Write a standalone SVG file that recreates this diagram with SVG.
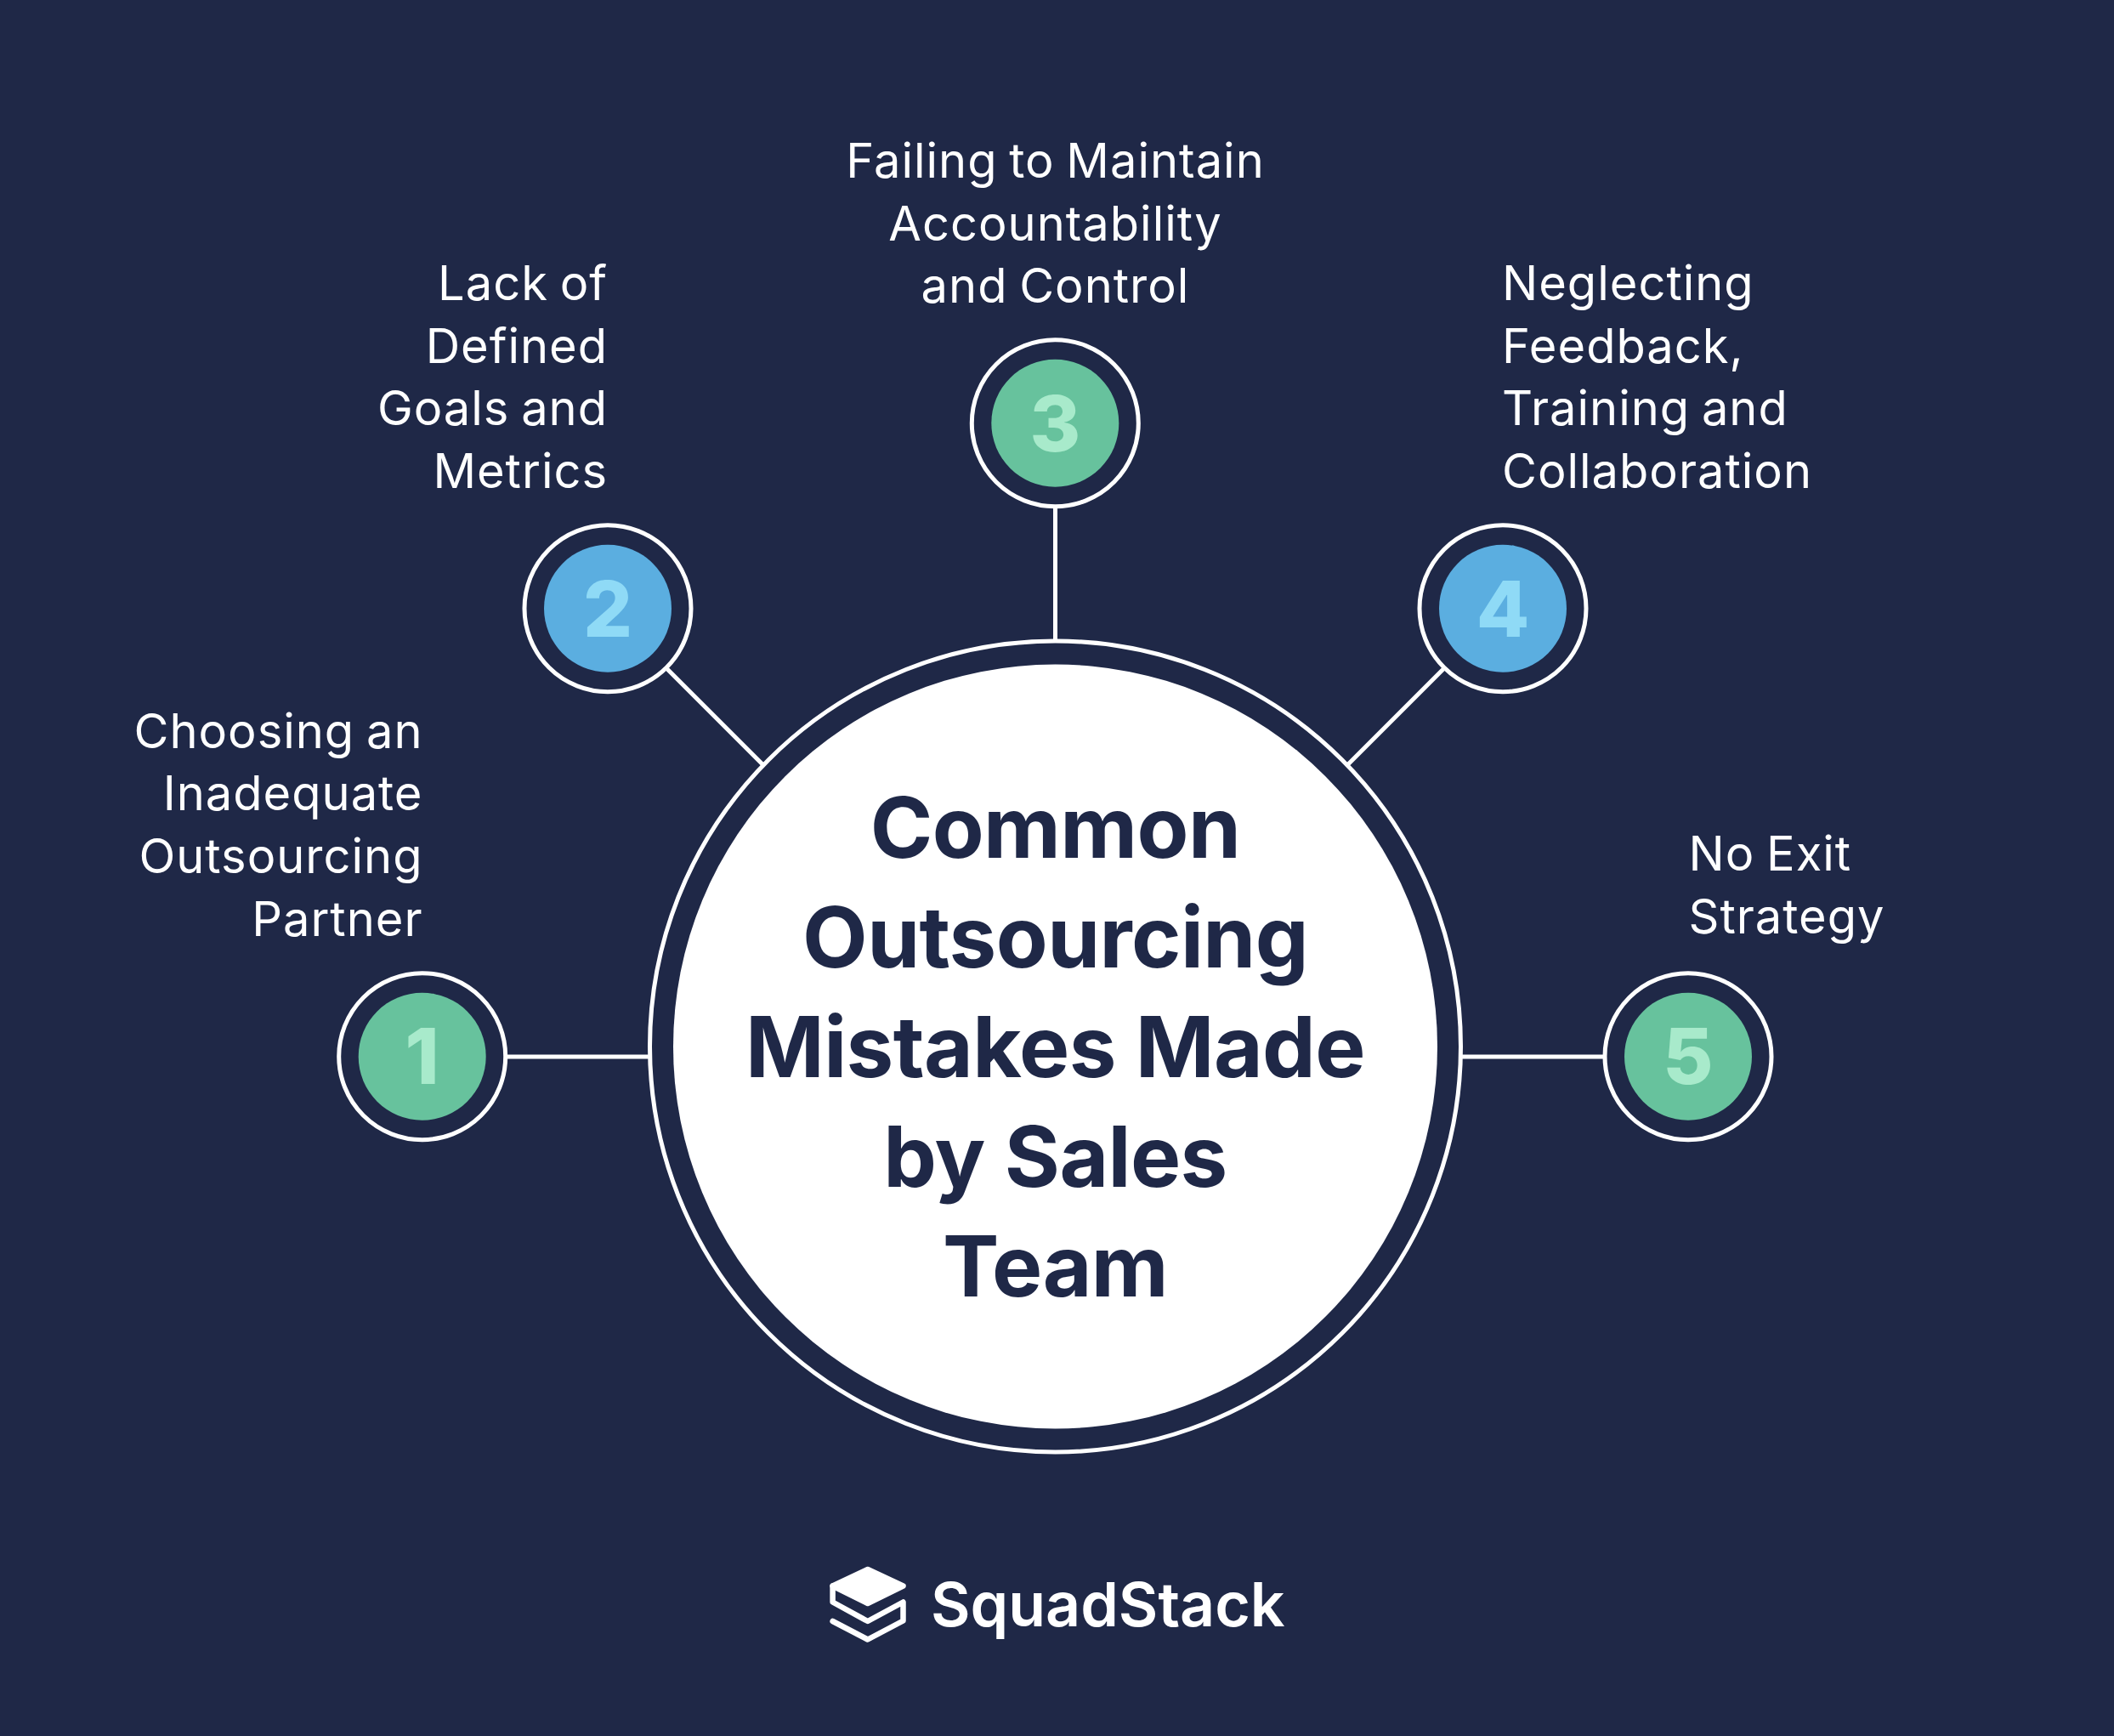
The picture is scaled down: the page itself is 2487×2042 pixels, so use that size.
<svg xmlns="http://www.w3.org/2000/svg" width="2487" height="2042" viewBox="0 0 2487 2042">
<style>
.lbl{font-family:Inter,"Noto Sans",sans-serif;font-size:56px;font-weight:400;letter-spacing:1px;word-spacing:-3px;fill:#fff}
.ttl{font-family:Inter,"Noto Sans",sans-serif;font-size:99.5px;font-weight:750;letter-spacing:-.6px;fill:#1f2847;text-anchor:middle}
.num{font-family:Inter,"Noto Sans",sans-serif;font-size:91px;font-weight:850;text-anchor:middle}
.ring{fill:none;stroke:#fff;stroke-width:5}
.conn{stroke:#fff;stroke-width:5;fill:none}
.g{fill:#67c29d}.gn{fill:#a8eacb}.b{fill:#5baee0}.bn{fill:#8fdaf6}
</style>
<rect width="2487" height="2042" fill="#1f2847"/>
<g id="connectors">
<line class="conn" x1="597" y1="1243" x2="763" y2="1243"/>
<line class="conn" x1="785" y1="787" x2="897" y2="899"/>
<line class="conn" x1="1241.5" y1="598" x2="1241.5" y2="753"/>
<line class="conn" x1="1698" y1="787" x2="1586" y2="899"/>
<line class="conn" x1="1886" y1="1243" x2="1720" y2="1243"/>
</g>
<g id="center">
<circle class="ring" cx="1241.5" cy="1231" r="477"/>
<circle cx="1241.5" cy="1231" r="449.5" fill="#fff"/>
<text class="ttl" x="1241.5" y="1008.5">Common</text>
<text class="ttl" x="1241.5" y="1137.7">Outsourcing</text>
<text class="ttl" x="1241.5" y="1266.8">Mistakes Made</text>
<text class="ttl" x="1241.5" y="1396">by Sales</text>
<text class="ttl" x="1241.5" y="1525">Team</text>
</g>
<g id="node-1">
<circle class="ring" cx="496.7" cy="1242.7" r="98"/><circle class="g" cx="496.7" cy="1242.7" r="75"/>
<text class="num gn" x="496.7" y="1275">1</text>
<text class="lbl" text-anchor="end" x="497.5" y="879.5">Choosing an</text>
<text class="lbl" text-anchor="end" x="497.5" y="953">Inadequate</text>
<text class="lbl" text-anchor="end" x="497.5" y="1026.5">Outsourcing</text>
<text class="lbl" text-anchor="end" x="497.5" y="1100.5">Partner</text>
</g>
<g id="node-2">
<circle class="ring" cx="715" cy="715.7" r="98"/><circle class="b" cx="715" cy="715.7" r="75"/>
<text class="num bn" x="715" y="749">2</text>
<text class="lbl" text-anchor="end" x="715" y="352.7">Lack of</text>
<text class="lbl" text-anchor="end" x="715" y="426.5">Defined</text>
<text class="lbl" text-anchor="end" x="715" y="500">Goals and</text>
<text class="lbl" text-anchor="end" x="715" y="573.7">Metrics</text>
</g>
<g id="node-3">
<circle class="ring" cx="1241.3" cy="497.7" r="98"/><circle class="g" cx="1241.3" cy="497.7" r="75"/>
<text class="num gn" x="1241.3" y="530.5">3</text>
<text class="lbl" text-anchor="middle" x="1241.5" y="209">Failing to Maintain</text>
<text class="lbl" text-anchor="middle" x="1241.5" y="282.5">Accountability</text>
<text class="lbl" text-anchor="middle" x="1241.5" y="356">and Control</text>
</g>
<g id="node-4">
<circle class="ring" cx="1768" cy="715.7" r="98"/><circle class="b" cx="1768" cy="715.7" r="75"/>
<text class="num bn" x="1768" y="749">4</text>
<text class="lbl" x="1767" y="352.7">Neglecting</text>
<text class="lbl" x="1767" y="426.5">Feedback,</text>
<text class="lbl" x="1767" y="500">Training and</text>
<text class="lbl" x="1767" y="573.7">Collaboration</text>
</g>
<g id="node-5">
<circle class="ring" cx="1986" cy="1242.7" r="98"/><circle class="g" cx="1986" cy="1242.7" r="75"/>
<text class="num gn" x="1986" y="1275">5</text>
<text class="lbl" x="1986.5" y="1024">No Exit</text>
<text class="lbl" x="1986.5" y="1097.5">Strategy</text>
</g>
<g id="logo">
<path d="M1020.8 1846L1062.5 1865.5L1020.8 1886L979.6 1865.5Z" fill="#fff" stroke="#fff" stroke-width="6.5" stroke-linejoin="round"/>
<path d="M979.6 1865.5V1884.5L1020.8 1907L1062.5 1884.5V1906.5L1020.8 1928.5L979.6 1907" fill="none" stroke="#fff" stroke-width="6.5" stroke-linejoin="round" stroke-linecap="round"/>
<text x="1095" y="1912.5" font-family="Inter,'Noto Sans',sans-serif" font-size="71.6" font-weight="600" fill="#fff">SquadStack</text>
</g>
</svg>
